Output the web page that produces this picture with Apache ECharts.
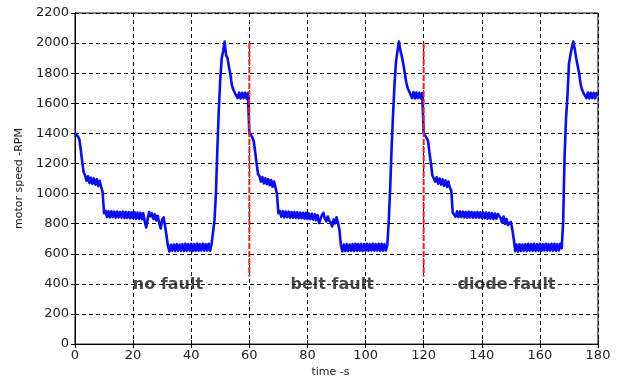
<!DOCTYPE html>
<html><head><meta charset="utf-8">
<script src="https://cdn.jsdelivr.net/npm/echarts@6/dist/echarts.min.js"></script>
<style>html,body{margin:0;padding:0;background:#fff}#c{width:621px;height:383px}</style>
</head><body><div id="c"></div>
<script>
// sampling step of the recorded speed (s)
const sampleStep = 0.5;
const periodStarts = [0, 60, 120];
// motor speed (RPM), 0.5 s samples, one array per 60 s run
const speedNoFault = [
1400,1395,1380,1360,1290,1210,1140,1120,1085,1115,1070,1105,1065,1100,1060,1095,1050,1085,1045,1010,
870,885,845,882,842,882,844,880,840,880,842,878,840,880,838,878,838,878,836,876,
836,876,834,874,832,872,830,870,815,775,830,878,848,868,832,862,822,852,802,768,
828,842,785,720,650,615,660,620,662,618,664,620,662,620,664,618,666,620,664,620,
666,618,664,620,666,620,664,622,666,620,664,622,666,620,664,660,820,1000,1300,1560,
1760,1900,1950,2010,1920,1900,1840,1790,1720,1690,1670,1675,1635,1672,1632,1670,1634,1670,1632,1668
];
const speedBeltFault = [
1400,1390,1375,1350,1280,1200,1130,1115,1080,1110,1068,1102,1062,1096,1056,1090,1046,1080,1040,1000,
870,884,846,882,842,881,844,880,840,878,840,878,838,876,836,874,836,872,834,872,
832,868,830,866,826,862,824,858,805,795,858,872,832,815,848,822,808,782,828,802,
842,808,760,660,616,662,618,664,618,662,620,664,618,666,620,664,620,666,618,664,
620,666,620,664,622,666,620,664,622,666,620,666,620,664,622,660,820,1050,1320,1540,
1740,1880,1950,2010,1950,1910,1860,1800,1740,1700,1680,1672,1635,1674,1632,1672,1634,1670,1632,1668
];
const speedDiodeFault = [
1400,1395,1370,1350,1270,1200,1120,1110,1080,1108,1066,1100,1060,1094,1052,1088,1044,1080,1040,1020,
875,884,846,882,844,881,844,880,842,878,840,880,842,878,840,876,840,878,840,876,
838,874,836,874,834,872,834,870,832,868,834,864,872,838,808,848,798,832,792,782,
812,762,700,618,662,616,664,618,662,620,664,618,666,620,664,620,666,618,664,620,
666,620,664,622,666,620,664,622,666,620,666,620,664,622,666,636,810,1250,1500,1650,
1860,1920,1970,2010,1960,1900,1850,1800,1730,1690,1670,1675,1635,1672,1632,1670,1634,1670,1632,1668
];
const finalTime = 180, finalSpeed = 1650;
// fault change markers
const faultTimes = [60, 120];
const faultLineTop = 2000, faultLineBottom = 450;
// annotations
const labelTexts = ['no fault', 'belt fault', 'diode fault'];
const labelTimes = [32, 88.5, 148.5];
const labelSpeed = 395;
// axes
const xTicks = [0,20,40,60,80,100,120,140,160,180];
const yTicks = [0,200,400,600,800,1000,1200,1400,1600,1800,2000,2200];

const runs = [speedNoFault, speedBeltFault, speedDiodeFault];
const speedData = [];
runs.forEach((arr, k) => arr.forEach((v, i) => speedData.push([periodStarts[k] + i * sampleStep, v])));
speedData.push([finalTime, finalSpeed]);

const faultData = [];
faultTimes.forEach(t => { faultData.push([t, faultLineTop], [t, faultLineBottom], [t, null]); });

const labelData = labelTexts.map((s, i) => [labelTimes[i], labelSpeed, s]);

const font = 'DejaVu Sans';
const grid = {left: 75, right: 23, top: 13, bottom: 34, show: true, borderColor: '#000', borderWidth: 1};
const gridLine = {show: true, lineStyle: {color: '#000', type: [4, 3], width: 1}};
const chart = echarts.init(document.getElementById('c'), null, {renderer: 'canvas'});
chart.setOption({
  animation: false,
  backgroundColor: '#fff',
  grid,
  xAxis: [{
    type: 'value', min: xTicks[0], max: xTicks[xTicks.length - 1], interval: 20,
    name: 'time -s', nameLocation: 'middle', nameGap: 20,
    nameTextStyle: {fontFamily: font, fontSize: 11, color: '#222', padding: [0, 12, 0, 0]},
    axisLine: {lineStyle: {color: '#000'}},
    axisTick: {inside: true, length: 4, lineStyle: {color: '#000'}},
    axisLabel: {fontFamily: font, fontSize: 13, color: '#222', margin: 5, formatter: v => String(v)},
    splitLine: gridLine
  }, {
    type: 'value', min: xTicks[0], max: xTicks[xTicks.length - 1], interval: 20, position: 'top',
    axisLine: {lineStyle: {color: '#000'}},
    axisTick: {inside: true, length: 4, lineStyle: {color: '#000'}},
    axisLabel: {show: false}, splitLine: {show: false}
  }],
  yAxis: [{
    type: 'value', min: yTicks[0], max: yTicks[yTicks.length - 1], interval: 200,
    name: 'motor speed -RPM', nameLocation: 'middle', nameGap: 44,
    nameTextStyle: {fontFamily: font, fontSize: 11, color: '#222'},
    axisLine: {show: true, lineStyle: {color: '#000'}},
    axisTick: {show: true, inside: true, length: 4, lineStyle: {color: '#000'}},
    axisLabel: {fontFamily: font, fontSize: 13, color: '#222', margin: 6, formatter: v => String(v)},
    splitLine: gridLine
  }, {
    type: 'value', min: yTicks[0], max: yTicks[yTicks.length - 1], interval: 200, position: 'right',
    axisLine: {show: true, lineStyle: {color: '#000'}},
    axisTick: {show: true, inside: true, length: 4, lineStyle: {color: '#000'}},
    axisLabel: {show: false}, splitLine: {show: false}
  }],
  series: [{
    type: 'line', data: speedData, showSymbol: false, symbol: 'none',
    lineStyle: {color: '#0a0aff', width: 2.6, join: 'round'}, z: 3
  }, {
    type: 'line', data: faultData, showSymbol: false, symbol: 'none', connectNulls: false,
    lineStyle: {color: '#ff1a1a', width: 2, type: [6, 2]}, z: 4
  }, {
    type: 'scatter', data: labelData, symbolSize: 0, z: 5,
    label: {show: true, position: 'inside', formatter: p => p.data[2],
      fontFamily: font, fontSize: 16, fontWeight: 'bold', color: '#1a1a1a'}
  }]
});
</script></body></html>
